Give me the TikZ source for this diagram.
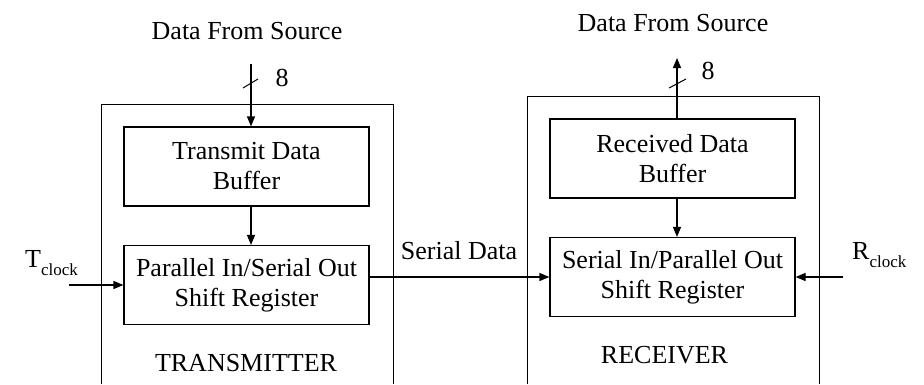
\documentclass[tikz,border=0pt]{standalone}
\usepackage{fontspec}
\setmainfont{Liberation Serif}
\usetikzlibrary{arrows.meta}
\newcommand{\clk}[1]{#1\raisebox{-8pt}{\fontsize{17}{17}\selectfont clock}}

\begin{document}
\begin{tikzpicture}[x=1pt, y=-1pt,
		font=\fontsize{26}{30}\selectfont,
		base/.style={draw, line width=1.2pt, minimum width=245pt, minimum height=79pt, align=center, inner sep=0pt},
		unit/.style={draw, line width=1pt},
		link/.style={-{Triangle[length=10pt, width=8pt]}, draw, line width=1.2pt},
		txt/.style={anchor=base, inner sep=0pt}
	]
	\useasboundingbox (0,0) rectangle (924,384);

	\node[base] at (246.5,166.5) (tbuf) {Transmit Data\\Buffer};
	\node[base] at (246.5,285) (treg) {Parallel In/Serial Out\\Shift Register};
	\node[base] at (672.5,158.5) (rbuf) {Received Data\\Buffer};
	\node[base] at (672.5,277) (rreg) {Serial In/Parallel Out\\Shift Register};

	% transmitter and receiver, open at the bottom
	\draw[unit] (101,384) |- (393,104) -- (393,384);
	\draw[unit] (527,384) |- (819,96) -- (819,384);
	\node[txt] at (246,371) (tname) {TRANSMITTER};
	\node[txt] at (664.5,363) (rname) {RECEIVER};

	\node[txt] at (247,39) (tsrc) {Data From Source};
	\node[txt] at (673,31) (rsrc) {Data From Source};
	\coordinate (tin) at (251,64);
	\coordinate (rout) at (677,58);
	\draw[link] (tin) -- (tin |- tbuf.north);
	\draw[link] (tin |- tbuf.south) -- (tin |- treg.north);
	\draw[link] (rout |- rbuf.north) -- (rout);
	\draw[link] (rout |- rbuf.south) -- (rout |- rreg.north);

	\draw[unit] (243,88) -- (258,79);
	\draw[unit] (669,88) -- (686,79);
	\node[txt] at (282,86) (tbits) {8};
	\node[txt] at (708,79) (rbits) {8};

	\coordinate (tclk) at (69,285);
	\coordinate (rclk) at (843,277);
	\draw[link] (tclk) -- (treg.west);
	\draw[link] (rclk) -- (rreg.east);
	\node[txt, anchor=base west] at (25,267) (tclock) {\clk{T}};
	\node[txt, anchor=base west] at (852,259) (rclock) {\clk{R}};

	\draw[link] (treg.east |- rreg.west) -- (rreg.west);
	\node[txt] at (459,259) (serial) {Serial Data};

\end{tikzpicture}
\end{document}
